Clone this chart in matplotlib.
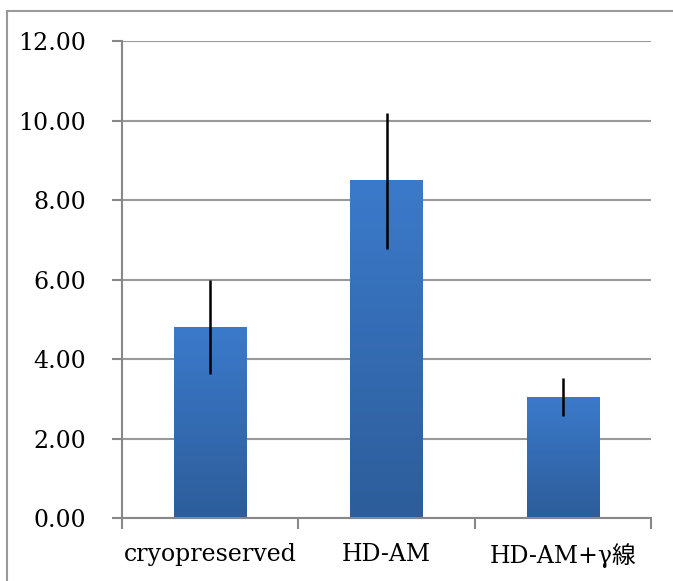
import matplotlib.pyplot as plt
import numpy as np
from matplotlib.colors import LinearSegmentedColormap
from matplotlib.lines import Line2D

plt.rcParams['font.family'] = ['DejaVu Serif', 'Noto Sans CJK JP']

categories = ['cryopreserved', 'HD-AM', 'HD-AM+γ線']
values = [4.80, 8.48, 3.04]
errors = [1.18, 1.71, 0.47]
yticks = [0, 2, 4, 6, 8, 10, 12]

fig = plt.figure(figsize=(6.73, 5.81), dpi=100)
ax = fig.add_axes([0.1813, 0.1084, 0.786, 0.821])

x = np.arange(len(categories))
width = 0.41
cmap = LinearSegmentedColormap.from_list('bar', ['#2d5d9a', '#3b7acb'])
grad = np.linspace(0, 1, 256).reshape(-1, 1)

for xi, v in zip(x, values):
    ax.imshow(grad, cmap=cmap, origin='lower', aspect='auto',
              extent=[xi - width / 2, xi + width / 2, 0, v], zorder=2)

ax.errorbar(x, values, yerr=errors, fmt='none', ecolor='black',
            elinewidth=1.8, capsize=0, zorder=3)

ax.set_xlim(-0.5, len(categories) - 0.5)
ax.set_ylim(0, 12)
ax.set_yticks(yticks)
ax.set_yticklabels(['%.2f' % t for t in yticks])
ax.yaxis.grid(True, color='#999999', linewidth=1.5, zorder=0)
ax.set_axisbelow(True)

ax.set_xticks(x)
ax.set_xticklabels(categories)
ax.set_xticks(np.arange(len(categories) + 1) - 0.5, minor=True)
ax.tick_params(axis='x', which='major', length=0, pad=18, labelsize=17)
ax.tick_params(axis='x', which='minor', length=8, width=1.5, color='#888888', direction='out')
ax.tick_params(axis='y', length=7, width=1.5, color='#888888', pad=19, labelsize=17)

for s in ['top', 'right']:
    ax.spines[s].set_visible(False)
for s in ['left', 'bottom']:
    ax.spines[s].set_color('#888888')
    ax.spines[s].set_linewidth(1.5)

# outer frame (open on right and bottom)
fig.add_artist(Line2D([7 / 673, 7 / 673], [0, 1 - 11 / 581], transform=fig.transFigure,
                      color='#999999', linewidth=1.5))
fig.add_artist(Line2D([7 / 673, 1], [1 - 11 / 581, 1 - 11 / 581], transform=fig.transFigure,
                      color='#999999', linewidth=1.5))

fig.savefig('out.png', dpi=100)
